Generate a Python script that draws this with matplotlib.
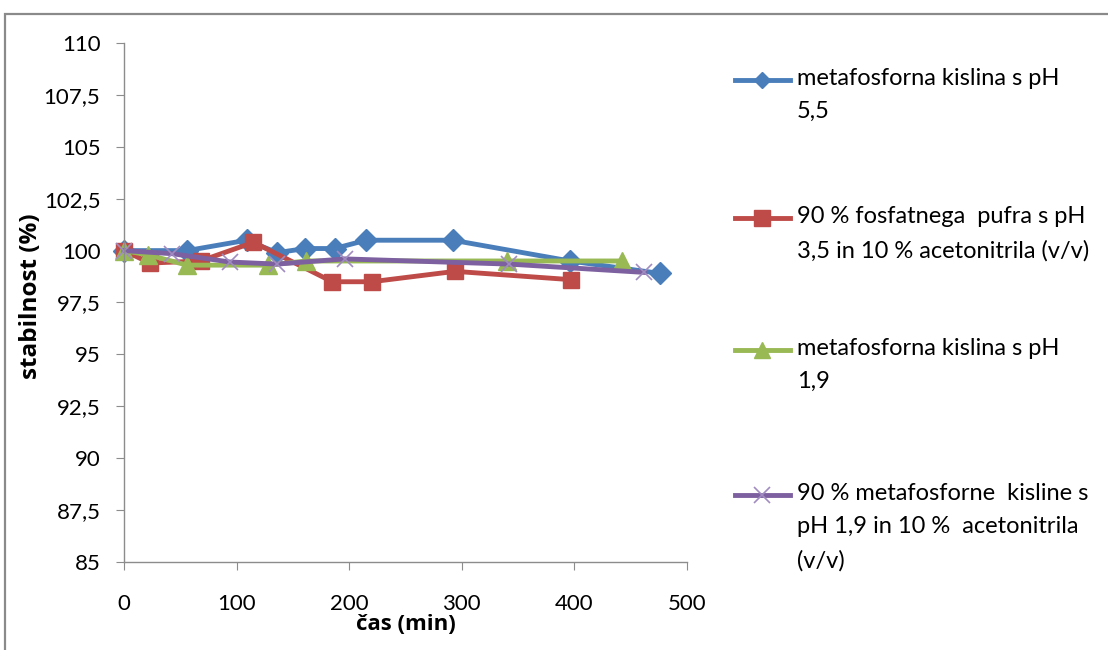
import matplotlib
matplotlib.use("Agg")
import matplotlib.pyplot as plt
from matplotlib.lines import Line2D
from matplotlib.patches import Rectangle

# Time points (min) and stability (%) per mobile phase
t_meta55 = [0, 56, 109, 136, 161, 187, 215, 292, 396, 476]
s_meta55 = [100.0, 100.0, 100.5, 99.9, 100.1, 100.1, 100.5, 100.5, 99.5, 98.9]

t_fosf35 = [0, 23, 68, 115, 185, 220, 294, 397]
s_fosf35 = [100.0, 99.4, 99.5, 100.4, 98.5, 98.5, 99.0, 98.6]

t_meta19 = [0, 21, 56, 128, 162, 340, 442]
s_meta19 = [100.0, 99.8, 99.3, 99.3, 99.5, 99.5, 99.5]

t_meta19_acn = [0, 43, 94, 136, 196, 342, 462]
s_meta19_acn = [100.0, 99.85, 99.45, 99.35, 99.6, 99.35, 98.95]

labels = [
    "metafosforna kislina s pH\n5,5",
    "90 % fosfatnega  pufra s pH\n3,5 in 10 % acetonitrila (v/v)",
    "metafosforna kislina s pH\n1,9",
    "90 % metafosforne  kisline s\npH 1,9 in 10 %  acetonitrila\n(v/v)",
]

y_ticks = [85, 87.5, 90, 92.5, 95, 97.5, 100, 102.5, 105, 107.5, 110]
x_ticks = [0, 100, 200, 300, 400, 500]

font = "Lato"
label_font = "Open Sans"

series = [
    (t_meta55, s_meta55, "#4A7EBB", "D", 11, 8, dict()),
    (t_fosf35, s_fosf35, "#BE4B48", "s", 12, 12, dict()),
    (t_meta19, s_meta19, "#98B954", "^", 13, 11, dict()),
    (t_meta19_acn, s_meta19_acn, "#7D60A0", "x", 12, 11,
     dict(markeredgecolor="#A08CC0", markeredgewidth=1.2)),
]

W, H = 1108, 650
fig = plt.figure(figsize=(W / 100, H / 100), dpi=100)
ax = fig.add_axes([124 / W, 1 - 562 / H, (687 - 124) / W, (562 - 43) / H])

for t, s, c, m, ms, lms, extra in series:
    ax.plot(t, s, color=c, lw=3.5, marker=m, markersize=ms,
            markerfacecolor=c, markeredgecolor=extra.get("markeredgecolor", c),
            markeredgewidth=extra.get("markeredgewidth", 1.0), clip_on=False,
            solid_joinstyle="round")

ax.set_xlim(0, 500)
ax.set_ylim(85, 110)
ax.set_xticks(x_ticks)
ax.set_yticks(y_ticks)
ax.set_xticklabels([str(v) for v in x_ticks], fontfamily=font, fontsize=16)
ax.set_yticklabels([("%g" % v).replace(".", ",") for v in y_ticks],
                   fontfamily=font, fontsize=16)
for side in ("top", "right"):
    ax.spines[side].set_visible(False)
for side in ("left", "bottom"):
    ax.spines[side].set_color("#8C8C8C")
    ax.spines[side].set_linewidth(1.0)
ax.tick_params(axis="y", direction="out", length=6, color="#8C8C8C", pad=11)
ax.tick_params(axis="x", direction="out", length=6, color="#8C8C8C", pad=17)

ax.set_xlabel("čas (min)", fontfamily=label_font, fontweight="bold", fontsize=16, labelpad=0)
ax.set_ylabel("stabilnost (%)", fontfamily=label_font, fontweight="bold", fontsize=17.5)
ax.yaxis.set_label_coords(-0.143, 0.512)

# Legend drawn beside the plot area, handle aligned with the first text line
leg_y = [80, 218, 350, 495]
for (t, s, c, m, ms, lms, extra), lab, yy in zip(series, labels, leg_y):
    yf = 1 - yy / H
    fig.add_artist(Line2D([735 / W, 790 / W], [yf, yf], color=c, lw=3.5,
                          transform=fig.transFigure))
    fig.add_artist(Line2D([762 / W], [yf], marker=m, markersize=lms,
                          color=c, markerfacecolor=c,
                          markeredgecolor=extra.get("markeredgecolor", c),
                          markeredgewidth=extra.get("markeredgewidth", 1.0),
                          transform=fig.transFigure))
    fig.text(797 / W, 1 - (yy - 12) / H, lab, ha="left", va="top", fontfamily=font,
             fontsize=17, linespacing=1.72, transform=fig.transFigure)

# Chart frame
fig.add_artist(Rectangle((5 / W, -0.05), 1.2, 1 - 14 / H + 0.05, transform=fig.transFigure,
                         fill=False, edgecolor="#8A8A8A", lw=1.6))

fig.savefig("out.png", dpi=100)
